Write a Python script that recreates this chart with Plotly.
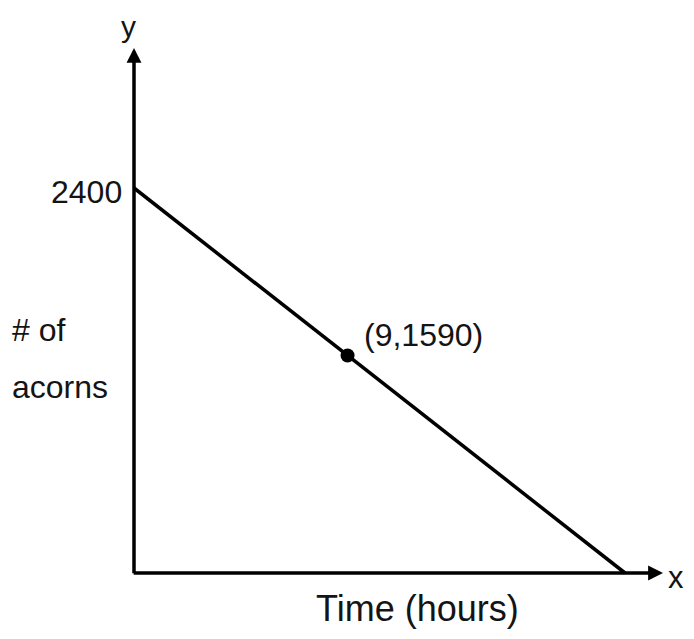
import plotly.graph_objects as go

# ---- data ----
line_x = [0, 26.67]          # hours
line_y = [2400, 0]           # acorns
point_x = [11.6]             # marked point as drawn on the sketch
point_y = [1356]
point_label = "(9,1590)"
y_tick_label = "2400"
x_title = "Time (hours)"
y_title_lines = ["# of", "acorns"]

# ---- layout geometry (page pixels; the page body has an 8px margin) ----
OFF = 8
W, H = 694 - 2 * OFF, 639 - 2 * OFF
ML, MR, MT, MB = 92, 0, 0, 40
PW, PH = W - ML - MR, H - MT - MB
X0_PX, Y0_PX = 134 - OFF, 573 - OFF     # origin in figure pixels
XS = 491 / 26.67                        # px per hour
YS = 385 / 2400                         # px per acorn
xr = [-(X0_PX - ML) / XS, (W - MR - X0_PX) / XS]
yr = [-(H - MB - Y0_PX) / YS, (Y0_PX - MT) / YS]

def px(x):
    return (x - OFF - ML) / PW

def py(y):
    return (H - MB - (y - OFF)) / PH

FONT = "Liberation Sans, Arial, Helvetica, sans-serif"
TXT = "#141414"

fig = go.Figure()
fig.add_trace(go.Scatter(x=line_x, y=line_y, mode="lines",
                         line=dict(color="black", width=3.5),
                         hoverinfo="skip", showlegend=False))
fig.add_trace(go.Scatter(x=point_x, y=point_y, mode="markers",
                         marker=dict(color="black", size=14),
                         cliponaxis=False, showlegend=False))

ann = []
# axes with arrows
x_tip = (663 - OFF - X0_PX) / XS
y_tip = (Y0_PX - (48 - OFF)) / YS
ann.append(dict(x=x_tip, y=0, ax=-0.1, ay=0, xref="x", yref="y", axref="x", ayref="y",
                showarrow=True, arrowhead=2, arrowsize=0.85, arrowwidth=3.5, arrowcolor="black", text=""))
ann.append(dict(x=0, y=y_tip, ax=0, ay=-11, xref="x", yref="y", axref="x", ayref="y",
                showarrow=True, arrowhead=2, arrowsize=0.85, arrowwidth=3.5, arrowcolor="black", text=""))

def txt(text, x, y, xanchor="center", yanchor="middle", size=32):
    ann.append(dict(text=text, x=px(x), y=py(y), xref="paper", yref="paper",
                    xanchor=xanchor, yanchor=yanchor, showarrow=False,
                    font=dict(family=FONT, size=size, color=TXT)))

txt("y", 128, OFF, yanchor="top", size=30)
txt("x", 686, 577, xanchor="right", size=31)
txt(y_tick_label, 124, 192, "right")
txt(y_title_lines[0], 10, 330, "left")
txt(y_title_lines[1], 10, 387, "left")
txt(x_title, 417, H + OFF, yanchor="bottom", size=36)
ann.append(dict(text=point_label, x=point_x[0], y=point_y[0], xref="x", yref="y",
                xanchor="left", yanchor="middle", xshift=14, yshift=20, showarrow=False,
                font=dict(family=FONT, size=32, color=TXT)))

fig.update_layout(
    width=W, height=H,
    margin=dict(l=ML, r=MR, t=MT, b=MB),
    paper_bgcolor="white", plot_bgcolor="white",
    xaxis=dict(range=xr, visible=False, fixedrange=True),
    yaxis=dict(range=yr, visible=False, fixedrange=True),
    annotations=ann,
    showlegend=False,
)
fig.write_html("out.html")
